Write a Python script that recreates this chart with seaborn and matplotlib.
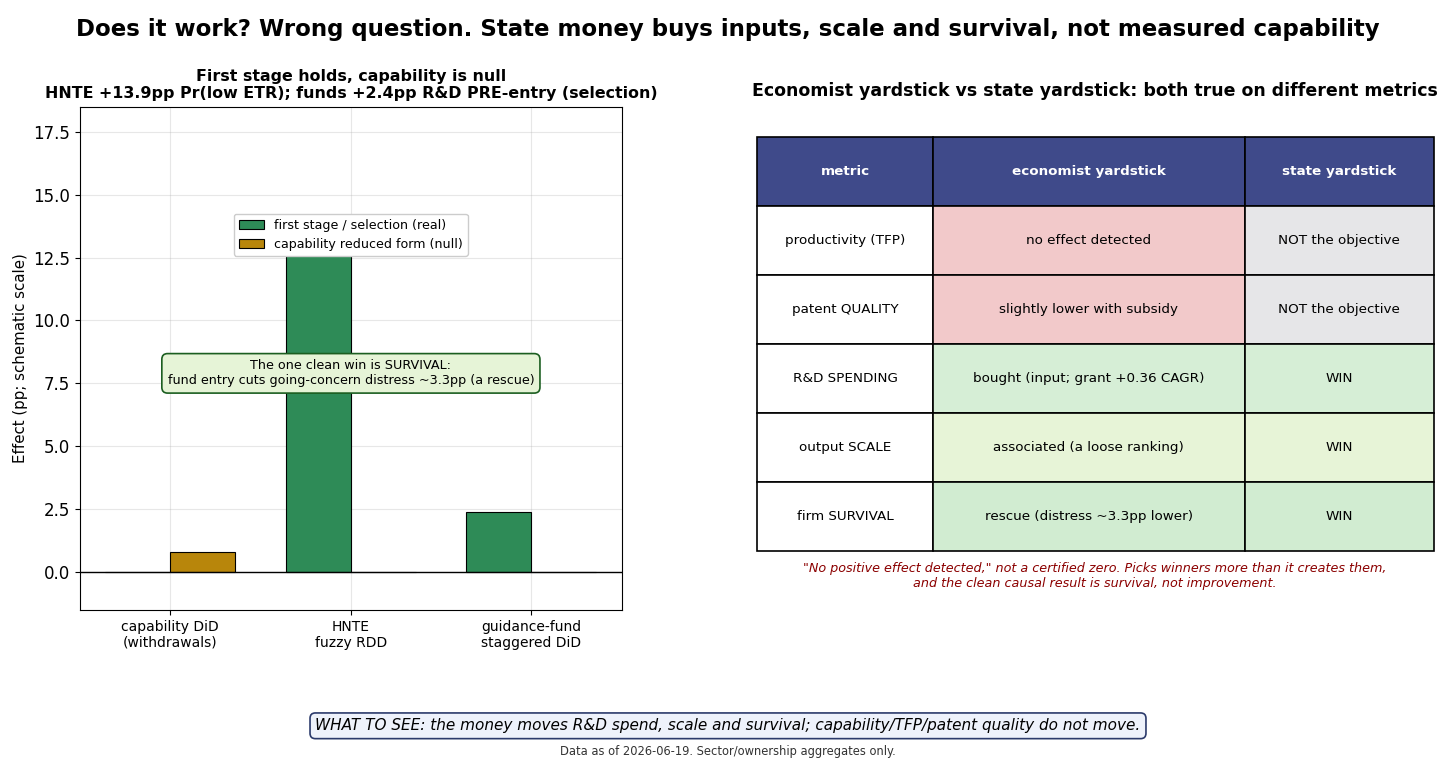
import matplotlib
matplotlib.use("Agg")
import matplotlib.pyplot as plt
import seaborn as sns
import pandas as pd

# ---- data ----
categories = ["capability DiD\n(withdrawals)", "HNTE\nfuzzy RDD", "guidance-fund\nstaggered DiD"]
series_names = ["first stage / selection (real)", "capability reduced form (null)"]
first_stage = [0.0, 13.9, 2.4]
capability = [0.8, 0.0, 0.0]

table_cols = ["metric", "economist yardstick", "state yardstick"]
metrics = ["productivity (TFP)", "patent QUALITY", "R&D SPENDING", "output SCALE", "firm SURVIVAL"]
economist = ["no effect detected", "slightly lower with subsidy", "bought (input; grant +0.36 CAGR)",
             "associated (a loose ranking)", "rescue (distress ~3.3pp lower)"]
state = ["NOT the objective", "NOT the objective", "WIN", "WIN", "WIN"]
econ_colors = ["#f2c9ca", "#f2c9ca", "#d6eed6", "#e7f4d7", "#d1ecd1"]
state_colors = ["#e6e6e8", "#e6e6e8", "#d6eed6", "#e7f4d7", "#d1ecd1"]

plt.rcParams.update(matplotlib.rcParamsDefault)
plt.rcParams["font.family"] = ["DejaVu Sans"]

df = pd.DataFrame({
    "category": categories * 2,
    "series": [series_names[0]] * 3 + [series_names[1]] * 3,
    "value": first_stage + capability,
})

fig = plt.figure(figsize=(14.56, 7.64), dpi=100)
ax = fig.add_axes([0.055, 0.2016, 0.372, 0.659])

sns.barplot(data=df, x="category", y="value", hue="series", hue_order=series_names,
            palette=["#2e8b57", "#b8860b"], width=0.72, edgecolor="black", linewidth=0.8,
            saturation=1, ax=ax, legend=True)
ax.axhline(0, color="black", lw=1)
ax.set_xlim(-0.5, 2.5)
ax.set_ylim(-1.5, 18.5)
ax.grid(True, alpha=0.3)
ax.set_axisbelow(True)
ax.set_xlabel("")
ax.set_ylabel("Effect (pp; schematic scale)", fontsize=10.8)
ax.tick_params(axis="y", labelsize=12)
ax.tick_params(axis="x", labelsize=10)
ax.set_title("First stage holds, capability is null\nHNTE +13.9pp Pr(low ETR); funds +2.4pp R&D PRE-entry (selection)",
             fontsize=11.4, fontweight="bold")
ax.legend(loc="upper center", bbox_to_anchor=(0.5, 0.80), fontsize=9.1, framealpha=1)
ax.text(1.0, 7.9, "The one clean win is SURVIVAL:\nfund entry cuts going-concern distress ~3.3pp (a rescue)",
        ha="center", va="center", fontsize=9.2,
        bbox=dict(boxstyle="round,pad=0.45", fc="#e6f4d7", ec="#1b5e20", lw=1.2))

# ---- table ----
tax = fig.add_axes([0.520, 0.279, 0.465, 0.542])
tax.axis("off")
cell_text = [[m, e, s] for m, e, s in zip(metrics, economist, state)]
cell_colours = [["white", ec, sc] for ec, sc in zip(econ_colors, state_colors)]
tbl = tax.table(cellText=cell_text, colLabels=table_cols, cellColours=cell_colours,
                colColours=["#3f4a8a"] * 3, cellLoc="center", colWidths=[0.26, 0.46, 0.28],
                bbox=[0, 0, 1, 1])
tbl.auto_set_font_size(False)
tbl.set_fontsize(9.7)
for (r, c), cell in tbl.get_celld().items():
    cell.set_edgecolor("black")
    cell.set_linewidth(1.2)
    if r == 0:
        cell.get_text().set_color("white")
        cell.get_text().set_fontweight("bold")

fig.text(0.752, 0.881, "Economist yardstick vs state yardstick: both true on different metrics",
         ha="center", va="center", fontsize=12.5, fontweight="bold")
fig.text(0.752, 0.246, "\"No positive effect detected,\" not a certified zero. Picks winners more than it creates them,\n"
         "and the clean causal result is survival, not improvement.",
         ha="center", va="center", fontsize=9.2, style="italic", color="#8b0000")

fig.suptitle("Does it work? Wrong question. State money buys inputs, scale and survival, not measured capability",
             y=0.962, fontsize=16.5, fontweight="bold", va="center")

fig.text(0.5, 0.050, "WHAT TO SEE: the money moves R&D spend, scale and survival; capability/TFP/patent quality do not move.",
         ha="center", va="center", fontsize=11, style="italic",
         bbox=dict(boxstyle="round,pad=0.35", fc="#eef2fb", ec="#2b3a6b", lw=1.2))
fig.text(0.5, 0.017, "Data as of 2026-06-19. Sector/ownership aggregates only.",
         ha="center", va="center", fontsize=8.3, color="#333333")

fig.savefig("out.png", dpi=100)
